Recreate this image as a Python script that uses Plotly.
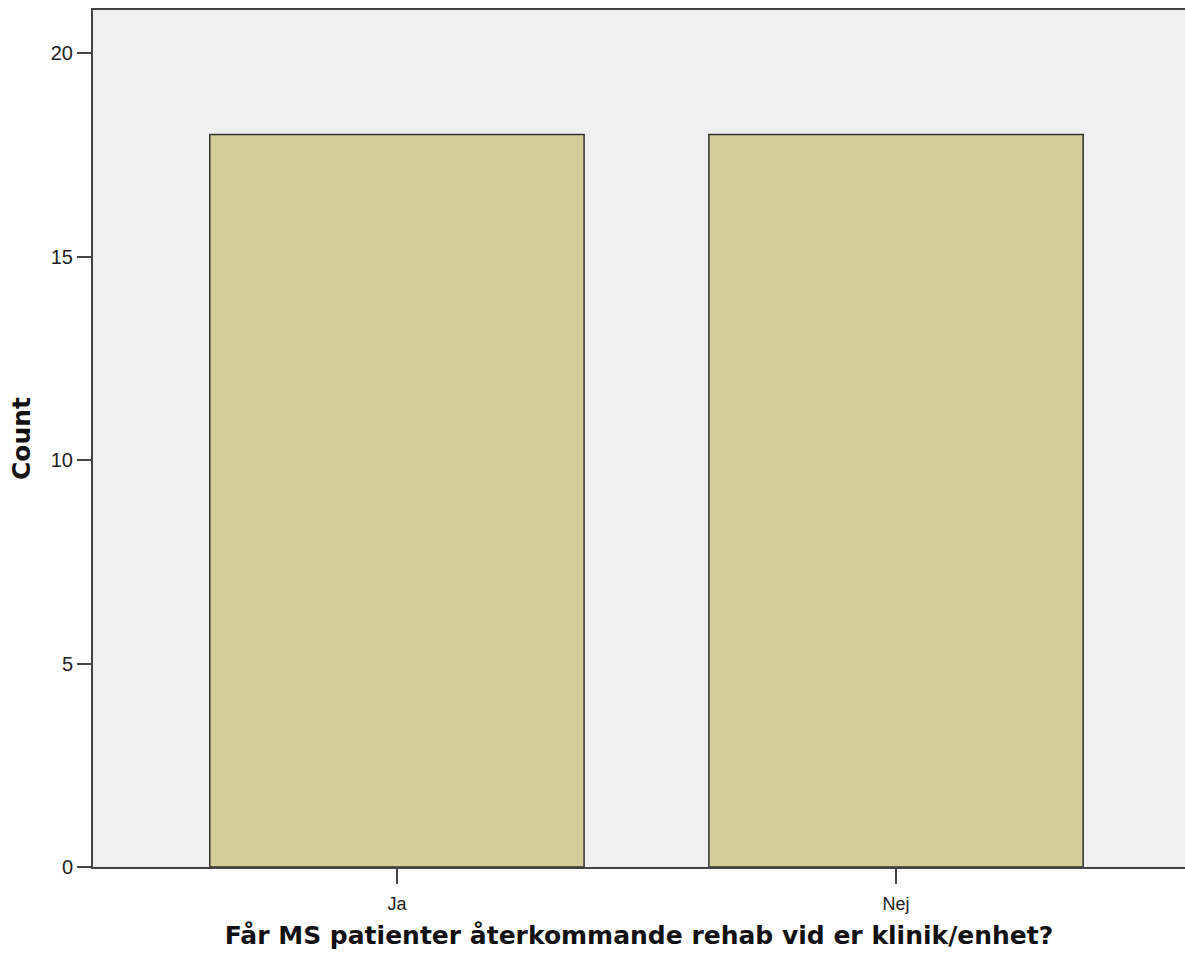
import plotly.graph_objects as go

categories = ["Ja", "Nej"]
counts = [18, 18]
y_ticks = [0, 5, 10, 15, 20]

fig = go.Figure()
fig.add_trace(go.Bar(
    x=[0, 1], y=counts, width=0.75,
    marker=dict(color="#D3CD98", line=dict(color="#333333", width=1.5)),
    hoverinfo="y",
))

fig.update_layout(
    width=1185, height=958,
    margin=dict(l=93, r=0, t=10, b=91),
    paper_bgcolor="white", plot_bgcolor="#F0F0F0",
    showlegend=False,
    font=dict(family="Liberation Sans, Arial", color="#222"),
)
fig.update_xaxes(
    range=[-0.609, 1.579], tickmode="array", tickvals=[0, 1], ticktext=categories,
    showgrid=False, zeroline=False,
    showline=True, linecolor="#444", linewidth=2, mirror=True,
    ticks="outside", ticklen=15, tickwidth=1.5, tickcolor="#444",
    ticklabelstandoff=4,
    tickfont=dict(size=18, family="Liberation Sans, Arial", color="#222"),
    title=dict(text="<b>Får MS patienter återkommande rehab vid er klinik/enhet?</b>",
               font=dict(size=25, family="DejaVu Sans", color="#111"), standoff=14),
)
fig.update_yaxes(
    range=[0, 21.06], tickmode="array", tickvals=y_ticks,
    showgrid=False, zeroline=False,
    showline=True, linecolor="#444", linewidth=2,
    ticks="outside", ticklen=14, tickwidth=1.5, tickcolor="#444",
    tickfont=dict(size=20, family="Liberation Sans, Arial", color="#222"),
    title=dict(text="<b>Count</b>", font=dict(size=25, family="DejaVu Sans", color="#111"), standoff=13),
)

fig.write_html("out.html", config={"displayModeBar": False},
               post_script="document.body.style.margin='0';")
